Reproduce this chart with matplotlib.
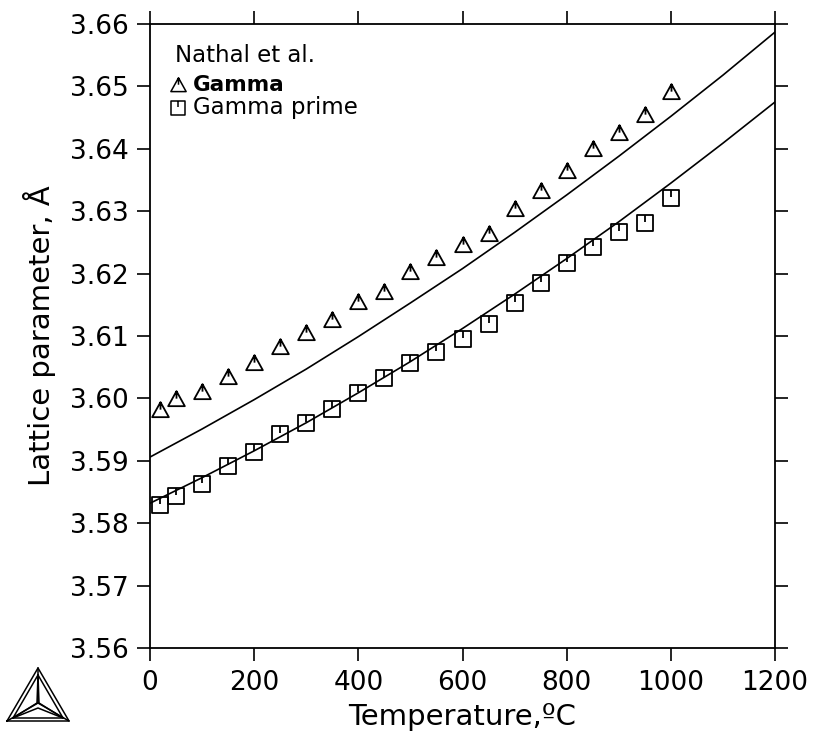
import matplotlib
matplotlib.use("Agg")
import matplotlib.pyplot as plt
from matplotlib.path import Path
from matplotlib.lines import Line2D

plt.rcParams['font.family'] = ['DejaVu Sans']

# measured points (Nathal et al.)
temps = [20, 50, 100, 150, 200, 250, 300, 350, 400, 450, 500,
         550, 600, 650, 700, 750, 800, 850, 900, 950, 1000]
gamma = [3.5981, 3.5999, 3.6010, 3.6034, 3.6056, 3.6083, 3.6105, 3.6126,
         3.6154, 3.6170, 3.6202, 3.6225, 3.6246, 3.6264, 3.6304, 3.6332,
         3.6364, 3.6400, 3.6425, 3.6454, 3.6491]
gamma_prime = [3.5829, 3.5844, 3.5863, 3.5892, 3.5914, 3.5943, 3.5961, 3.5983,
               3.6009, 3.6032, 3.6057, 3.6074, 3.6095, 3.6119, 3.6153, 3.6185,
               3.6217, 3.6243, 3.6267, 3.6281, 3.6321]

# calculated curves
calc_T = [0, 100, 200, 300, 400, 500, 600, 700, 800, 900, 1000, 1100, 1200]
calc_gamma = [3.5906, 3.5951, 3.5998, 3.6047, 3.6099, 3.6153, 3.6208,
              3.6266, 3.6326, 3.6388, 3.6452, 3.6518, 3.6587]
calc_gamma_prime = [3.5832, 3.5873, 3.5916, 3.5961, 3.6009, 3.6059, 3.6112,
                    3.6167, 3.6224, 3.6283, 3.6345, 3.6409, 3.6475]

xticks = [0, 200, 400, 600, 800, 1000, 1200]
yticks = [3.56, 3.57, 3.58, 3.59, 3.60, 3.61, 3.62, 3.63, 3.64, 3.65, 3.66]

# open symbols with a short bar inside
M, L, C = Path.MOVETO, Path.LINETO, Path.CLOSEPOLY
tri_marker = Path([(-1, -0.8), (1, -0.8), (0, 1), (0, 0), (0, 1), (0, 0.1)],
                  [M, L, L, C, M, L])
sq_marker = Path([(-1, -1), (1, -1), (1, 1), (-1, 1), (0, 0), (0, 1), (0, 0.1)],
                 [M, L, L, L, C, M, L])

fig = plt.figure(figsize=(8.13, 7.49), dpi=100)
ax = fig.add_axes([0.1845, 0.1348, 0.7688, 0.8332])

ax.plot(calc_T, calc_gamma, color='black', lw=1.2)
ax.plot(calc_T, calc_gamma_prime, color='black', lw=1.2)
ax.plot(temps, gamma, ls='none', marker=tri_marker, ms=12, mfc='none',
        mec='black', mew=1.3)
ax.plot(temps, gamma_prime, ls='none', marker=sq_marker, ms=11.5, mfc='none',
        mec='black', mew=1.3)

ax.set_xlim(0, 1200)
ax.set_ylim(3.56, 3.66)
ax.set_xticks(xticks)
ax.set_yticks(yticks)
ax.set_xticklabels([str(t) for t in xticks])
ax.set_yticklabels(['%.2f' % v for v in yticks])
ax.tick_params(direction='out', length=9.5, width=1.2, labelsize=19,
               top=True, right=True, pad=6)
for s in ax.spines.values():
    s.set_linewidth(1.3)

ax.set_xlabel('Temperature,ºC', fontsize=21, labelpad=5)
ax.set_ylabel('Lattice parameter, Å', fontsize=21, labelpad=10)

# key
ax.text(0.04, 0.95, 'Nathal et al.', transform=ax.transAxes, fontsize=16.5,
        va='center', ha='left')
ax.plot([0.045], [0.902], transform=ax.transAxes, marker=tri_marker, ms=11,
        mfc='none', mec='black', mew=1.1, clip_on=False)
ax.text(0.069, 0.902, 'Gamma', transform=ax.transAxes, fontsize=15.5,
        va='center', ha='left', fontweight='bold')
ax.plot([0.045], [0.866], transform=ax.transAxes, marker=sq_marker, ms=10,
        mfc='none', mec='black', mew=1.1, clip_on=False)
ax.text(0.069, 0.866, 'Gamma prime', transform=ax.transAxes, fontsize=16.5,
        va='center', ha='left')

# logo in the lower left corner
W, H = 813.0, 749.0
def fl(pts):
    xs = [p[0] / W for p in pts]
    ys = [1 - p[1] / H for p in pts]
    fig.add_artist(Line2D(xs, ys, color='black', lw=1.1))

fl([(7, 721), (69, 721), (38, 668), (7, 721)])
fl([(13, 718), (63, 718), (38, 675), (13, 718)])
fl([(38, 675), (37, 703), (13, 718)])
fl([(38, 675), (39, 703), (63, 718)])
fl([(13, 718), (38, 708), (63, 718)])
fl([(38, 668), (38, 703)])
fl([(7, 721), (38, 703), (69, 721)])

fig.savefig('out.png', dpi=100)
